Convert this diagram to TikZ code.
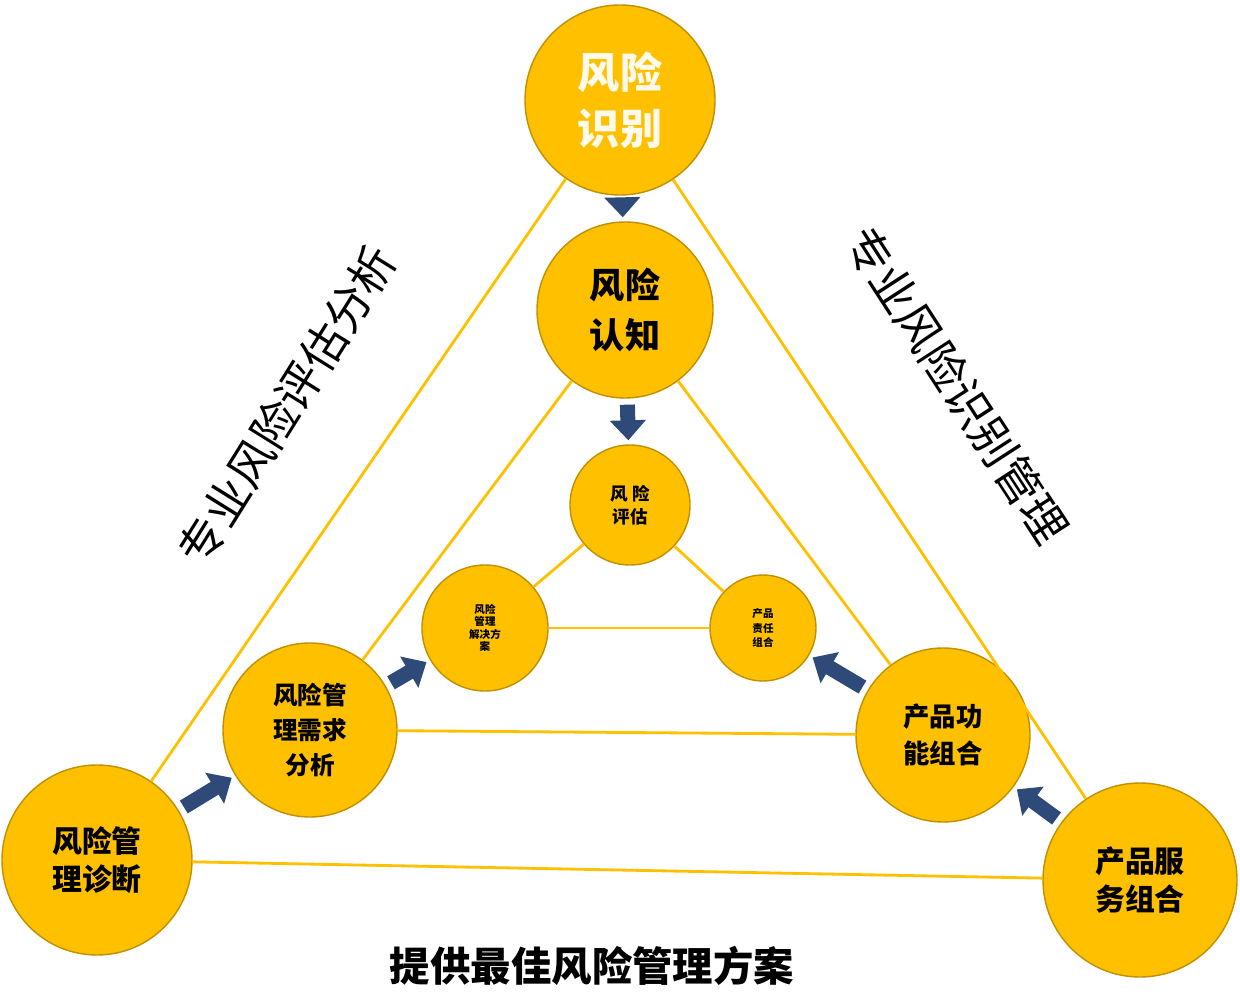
\documentclass[tikz,border=0pt]{standalone}
\usepackage{fontspec}
\setmainfont{Noto Sans CJK SC}
\usetikzlibrary{arrows.meta}
\definecolor{gold}{HTML}{FFC000}
\definecolor{golddark}{HTML}{C09000}
\definecolor{navy}{HTML}{2E4A78}
\begin{document}
\begin{tikzpicture}[x=0.02cm,y=-0.02cm,
    ball/.style={circle, fill=gold, draw=golddark, line width=0.8pt, inner sep=0pt, align=center, font=\bfseries},
    link/.style={draw=gold, line width=1.6pt},
    push/.style={navy, line width=0.3cm, shorten <=0.12cm, shorten >=0.08cm, -{Triangle[length=0.4cm,width=0.7cm]}}]
    \useasboundingbox (0,0) rectangle (1240,1006);
    % outer ring
    \node[ball, minimum size=190*0.02cm, text=white!92!gold, font=\bfseries\fontsize{24}{32}\selectfont] (shibie) at (620,100) {风险\\识别};
    \node[ball, minimum size=190*0.02cm, font=\bfseries\fontsize{17}{22}\selectfont] (zhenduan) at (97,860) {风险管\\理诊断};
    \node[ball, minimum size=194*0.02cm, font=\bfseries\fontsize{17}{22}\selectfont] (fuwu) at (1140,880) {产品服\\务组合};
    % middle ring
    \node[ball, minimum size=176*0.02cm, font=\bfseries\fontsize{20}{28}\selectfont] (renzhi) at (625,310) {风险\\认知};
    \node[ball, minimum size=174*0.02cm, font=\bfseries\fontsize{14}{20}\selectfont] (xuqiu) at (310,730) {风险管\\理需求\\分析};
    \node[ball, minimum size=174*0.02cm, font=\bfseries\fontsize{15}{21}\selectfont] (gongneng) at (943,735) {产品功\\能组合};
    % inner ring
    \node[ball, minimum size=120*0.02cm, font=\bfseries\fontsize{10}{13}\selectfont] (pinggu) at (630,505) {风 险\\评估};
    \node[ball, minimum size=126*0.02cm, font=\bfseries\fontsize{6}{7}\selectfont] (fangan) at (485,628) {风险\\管理\\解决方\\案};
    \node[ball, minimum size=106*0.02cm, font=\bfseries\fontsize{6}{8}\selectfont] (zeren) at (763,628) {产品\\责任\\组合};

    \draw[link] (shibie) -- (zhenduan);
    \draw[link] (shibie) -- (fuwu);
    \draw[link] (zhenduan) -- (fuwu);
    \draw[link] (renzhi) -- (xuqiu);
    \draw[link] (renzhi) -- (gongneng);
    \draw[link] (xuqiu) -- (gongneng);
    \draw[link] (pinggu) -- (fangan);
    \draw[link] (pinggu) -- (zeren);
    \draw[link] (fangan) -- (zeren);

    \draw[push] (shibie) -- (renzhi);
    \draw[push] (renzhi) -- (pinggu);
    \draw[push] (zhenduan) -- (xuqiu);
    \draw[push] (xuqiu) -- (fangan);
    \draw[push] (gongneng) -- (zeren);
    \draw[push] (fuwu) -- (gongneng);

    \node[rotate=58, font=\fontsize{26}{32}\selectfont] (leftlabel) at (287,405) {专业风险评估分析};
    \node[rotate=-57, font=\fontsize{26}{32}\selectfont] (rightlabel) at (957,385) {专业风险识别管理};
    \node[font=\bfseries\fontsize{23}{30}\selectfont] (bottomlabel) at (592,966) {提供最佳风险管理方案};
\end{tikzpicture}
\end{document}
